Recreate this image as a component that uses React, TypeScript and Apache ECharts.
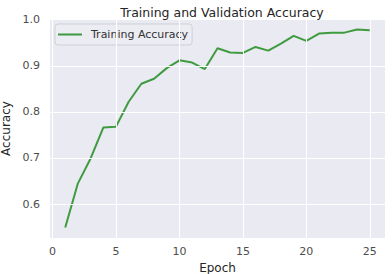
import React, { useEffect, useRef } from "react";
import * as echarts from "echarts";

const epochs = [1, 2, 3, 4, 5, 6, 7, 8, 9, 10, 11, 12, 13, 14, 15, 16, 17, 18, 19, 20, 21, 22, 23, 24, 25];
const trainAcc = [0.549, 0.645, 0.699, 0.766, 0.768, 0.822, 0.861, 0.872, 0.895, 0.912, 0.907, 0.893, 0.938, 0.929, 0.928, 0.941, 0.933, 0.948, 0.965, 0.954, 0.970, 0.972, 0.972, 0.979, 0.977];
const xTicks = [0, 5, 10, 15, 20, 25];
const yTicks = [0.6, 0.7, 0.8, 0.9, 1.0];

const FONT = "DejaVu Sans";

export default function App() {
  const ref = useRef<HTMLDivElement>(null);
  useEffect(() => {
    document.body.style.margin = "0";
    const chart = echarts.init(ref.current!, null, { renderer: "svg" });
    const gridMarks = [
      ...xTicks.map((v) => ({ xAxis: v })),
      ...yTicks.map((v) => ({ yAxis: v })),
    ];
    chart.setOption({
      animation: false,
      backgroundColor: "#ffffff",
      textStyle: { fontFamily: FONT },
      title: {
        text: "Training and Validation Accuracy",
        left: 217,
        textAlign: "center",
        top: 1,
        textStyle: { fontFamily: FONT, fontSize: 12.5, fontWeight: "normal", color: "#262626" },
      },
      legend: {
        left: 55,
        top: 24,
        data: ["Training Accuracy"],
        icon: "rect",
        itemWidth: 24,
        itemHeight: 2,
        itemGap: 6,
        padding: [5, 4, 5, 3],
        backgroundColor: "rgba(236,236,243,0.9)",
        borderColor: "#cfcfd6",
        borderWidth: 1,
        borderRadius: 3,
        textStyle: { fontFamily: FONT, fontSize: 11, color: "#333333", padding: [0, 0, 0, 4] },
      },
      grid: {
        left: 50,
        right: 7,
        top: 19,
        bottom: 36,
        show: true,
        backgroundColor: "#eaeaf2",
        borderWidth: 0,
        containLabel: false,
        outerBoundsMode: "none",
      },
      xAxis: {
        type: "value",
        min: -0.2,
        max: 26.2,
        name: "Epoch",
        nameLocation: "middle",
        nameGap: 17,
        nameTextStyle: { fontFamily: FONT, fontSize: 12, color: "#262626" },
        axisLine: { show: false },
        axisTick: { show: false },
        splitLine: { show: false },
        axisLabel: {
          customValues: xTicks,
          margin: 8,
          fontFamily: FONT,
          fontSize: 11,
          color: "#4d4d4d",
        },
      },
      yAxis: {
        type: "value",
        min: 0.5264,
        max: 1.0016,
        name: "Accuracy",
        nameLocation: "middle",
        nameGap: 29,
        nameTextStyle: { fontFamily: FONT, fontSize: 12, color: "#262626" },
        axisLine: { show: false },
        axisTick: { show: false },
        splitLine: { show: false },
        axisLabel: {
          customValues: yTicks,
          margin: 10,
          formatter: (v: number) => v.toFixed(1),
          fontFamily: FONT,
          fontSize: 11,
          color: "#4d4d4d",
        },
      },
      series: [
        {
          name: "grid",
          type: "line",
          data: [],
          z: 1,
          silent: true,
          markLine: {
            silent: true,
            symbol: "none",
            label: { show: false },
            lineStyle: { color: "#ffffff", width: 1, type: "solid" },
            data: gridMarks,
          },
        },
        {
          name: "Training Accuracy",
          type: "line",
          z: 3,
          data: epochs.map((e, i) => [e, trainAcc[i]]),
          showSymbol: false,
          color: "#3f9b3f",
          lineStyle: { width: 2, color: "#3f9b3f" },
        },
      ],
    });
    return () => chart.dispose();
  }, []);
  return <div ref={ref} style={{ width: 392, height: 274 }} />;
}
